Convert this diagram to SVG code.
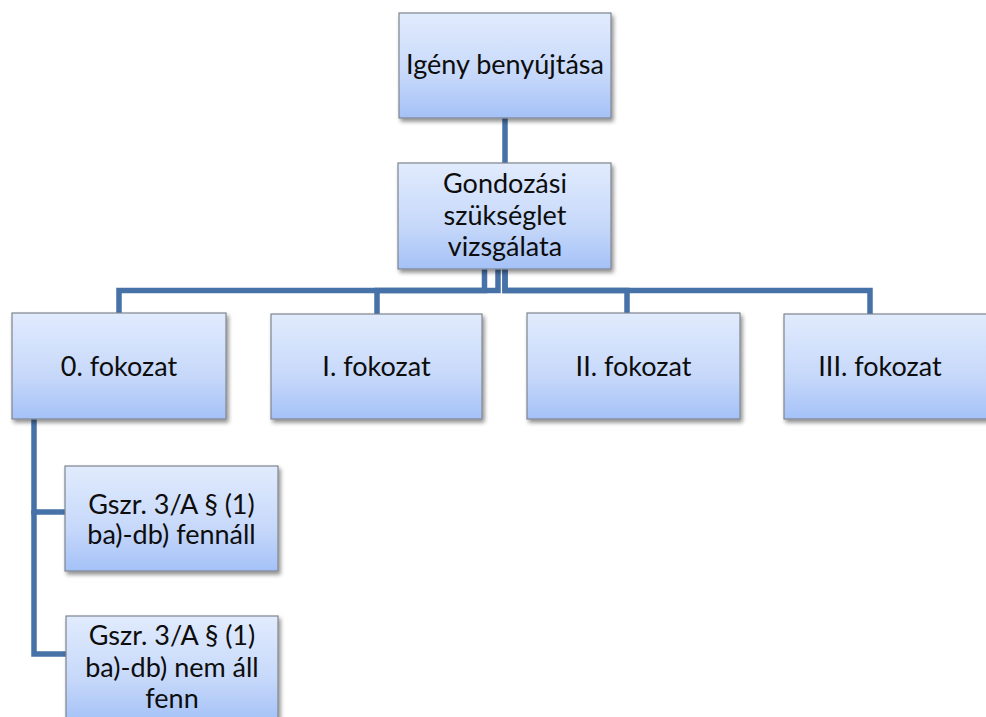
<svg xmlns="http://www.w3.org/2000/svg" width="986" height="717" viewBox="0 0 986 717">
<style>
.box{fill:url(#g);stroke:#7f8590;stroke-width:1.2;filter:url(#sh)}
.t{font-family:Lato,"Open Sans","Liberation Sans",sans-serif;font-size:27px;fill:#0d0d0d;text-anchor:middle}
.c{fill:none;stroke:#4772a8;stroke-width:5.5;stroke-linejoin:miter}
</style>
<defs>
<linearGradient id="g" x1="0" y1="0" x2="0" y2="1">
<stop offset="0" stop-color="#e1ebfd"/>
<stop offset="0.6" stop-color="#c6d8fa"/>
<stop offset="1" stop-color="#a4c1f7"/>
</linearGradient>
<filter id="sh" x="-10%" y="-10%" width="125%" height="130%">
<feGaussianBlur in="SourceAlpha" stdDeviation="2"/>
<feOffset dx="1.5" dy="3" result="b"/>
<feComponentTransfer><feFuncA type="linear" slope="0.45"/></feComponentTransfer>
<feMerge><feMergeNode/><feMergeNode in="SourceGraphic"/></feMerge>
</filter>
</defs>
<g id="connectors">
<path class="c" d="M505,118 V163"/>
<path class="c" d="M484.5,269 V290.5 H119 V313"/>
<path class="c" d="M498,269 V290.5 H377 V314"/>
<path class="c" d="M505,269 V290.5 H627 V313"/>
<path class="c" d="M505,269 V290.5 H870 V314"/>
<path class="c" d="M34,419 V512 H65"/>
<path class="c" d="M34,510 V654 H66"/>
</g>
<g id="n-igeny">
<rect class="box" x="399" y="13" width="212" height="105"/>
<text class="t" x="505" y="74">Igény benyújtása</text>
</g>
<g id="n-gondozasi">
<rect class="box" x="398" y="163" width="213" height="106"/>
<text class="t" x="505" y="193">Gondozási</text>
<text class="t" x="505" y="225">szükséglet</text>
<text class="t" x="505" y="256">vizsgálata</text>
</g>
<g id="n-f0">
<rect class="box" x="12" y="313" width="214" height="106"/>
<text class="t" x="119" y="376">0. fokozat</text>
</g>
<g id="n-f1">
<rect class="box" x="271" y="314" width="211" height="105"/>
<text class="t" x="376.5" y="376">I. fokozat</text>
</g>
<g id="n-f2">
<rect class="box" x="527" y="313" width="213" height="106"/>
<text class="t" x="633.5" y="376">II. fokozat</text>
</g>
<g id="n-f3">
<rect class="box" x="784" y="314" width="213" height="105"/>
<text class="t" x="880" y="376">III. fokozat</text>
</g>
<g id="n-fennall">
<rect class="box" x="65" y="466" width="213" height="105"/>
<text class="t" x="171.5" y="514">Gszr. 3/A § (1)</text>
<text class="t" x="171.5" y="544">ba)-db) fennáll</text>
</g>
<g id="n-nemall">
<rect class="box" x="66" y="616" width="212" height="106"/>
<text class="t" x="172" y="645">Gszr. 3/A § (1)</text>
<text class="t" x="172" y="677">ba)-db) nem áll</text>
<text class="t" x="172" y="708">fenn</text>
</g>
</svg>
